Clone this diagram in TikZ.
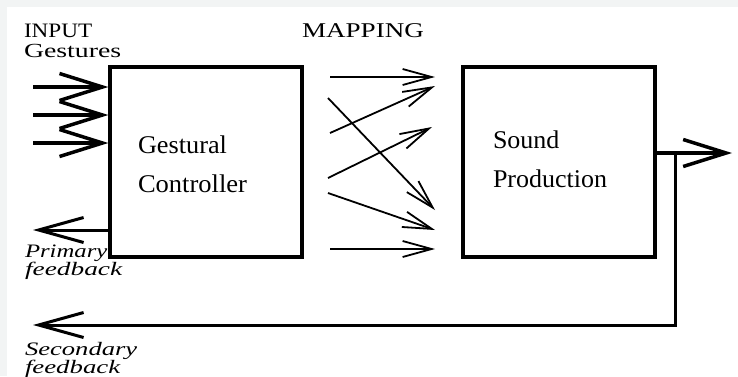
\documentclass[tikz,border=0pt]{standalone}
\usepackage{fontspec}
\setmainfont{Liberation Serif}
\usepackage{graphicx}
\usetikzlibrary{arrows.meta}
\definecolor{bgg}{HTML}{F2F4F4}
\newcommand{\fs}[1]{\fontsize{#1}{#1}\selectfont}
\begin{document}
\begin{tikzpicture}[x=1pt,y=-1pt,
  boxst/.style={draw, line width=3.3pt, minimum width=192pt, minimum height=190pt, inner sep=0pt},
  txt/.style={anchor=base west, inner sep=0pt, outer sep=0pt},
  bigarr/.style={line width=3.5pt, -{Straight Barb[length=43pt,width=27pt]}},
  fbarr/.style={line width=3pt, -{Straight Barb[length=45pt,width=25pt]}},
  maparr/.style={line width=1.8pt, -{Straight Barb[length=29pt,width=16pt]}}]
\useasboundingbox (0,0) rectangle (738,376);
\fill[bgg] (0,0) rectangle (738,376);
\fill[white] (7,7) rectangle (738,376);
% boxes
\node[boxst] (ctrl) at (206,162) {};
\node[boxst] (snd) at (559,162) {};
% texts
\node[txt] (tInput) at (24,37.5) {\fs{20.5}\scalebox{1.13}[1]{INPUT}};
\node[txt] (tGest) at (24,57.5) {\fs{20}\scalebox{1.39}[1]{Gestures}};
\node[txt] (tMap) at (302,37) {\fs{21}\scalebox{1.29}[1]{MAPPING}};
\node[txt] (tG1) at (138,153) {\fs{25.5}\scalebox{1.03}[1]{Gestural}};
\node[txt] (tG2) at (138,192) {\fs{25.5}\scalebox{1.04}[1]{Controller}};
\node[txt] (tS1) at (493,148) {\fs{25.5}\scalebox{1.02}[1]{Sound}};
\node[txt] (tS2) at (493,187) {\fs{25.5}\scalebox{1.02}[1]{Production}};
\node[txt] (tP1) at (25,257) {\fs{19}\itshape\scalebox{1.3}[1]{Primary}};
\node[txt] (tP2) at (25,275) {\fs{19}\itshape\scalebox{1.44}[1]{feedback}};
\node[txt] (tSe1) at (25,355) {\fs{19}\itshape\scalebox{1.4}[1]{Secondary}};
\node[txt] (tSe2) at (25,373) {\fs{19}\itshape\scalebox{1.41}[1]{feedback}};
% input gestures
\coordinate (ina) at (33,87);
\coordinate (inb) at (33,115);
\coordinate (inc) at (33,143);
\draw[bigarr] (ina) -- (ina -| ctrl.west);
\draw[bigarr] (inb) -- (inb -| ctrl.west);
\draw[bigarr] (inc) -- (inc -| ctrl.west);
% primary feedback
\coordinate (pf) at (33,230);
\draw[fbarr] (pf -| ctrl.west) -- (pf);
% output
\coordinate (out) at (732,153);
\draw[bigarr] (out -| snd.east) -- (out);
% secondary feedback
\coordinate (tap) at (675,153);
\coordinate (sf) at (33,325);
\draw[fbarr] (tap) -- (tap |- sf) -- (sf);
% mapping
\coordinate (m1s) at (330,77);  \coordinate (m1e) at (435,77);
\coordinate (m2s) at (328,98);  \coordinate (m2e) at (435,210);
\coordinate (m3s) at (330,133); \coordinate (m3e) at (435,86);
\coordinate (m4s) at (328,178); \coordinate (m4e) at (432,127);
\coordinate (m5s) at (328,193); \coordinate (m5e) at (435,230);
\coordinate (m6s) at (330,249); \coordinate (m6e) at (435,249);
\foreach \i in {1,...,6} { \draw[maparr] (m\i s) -- (m\i e); }
\end{tikzpicture}
\end{document}
